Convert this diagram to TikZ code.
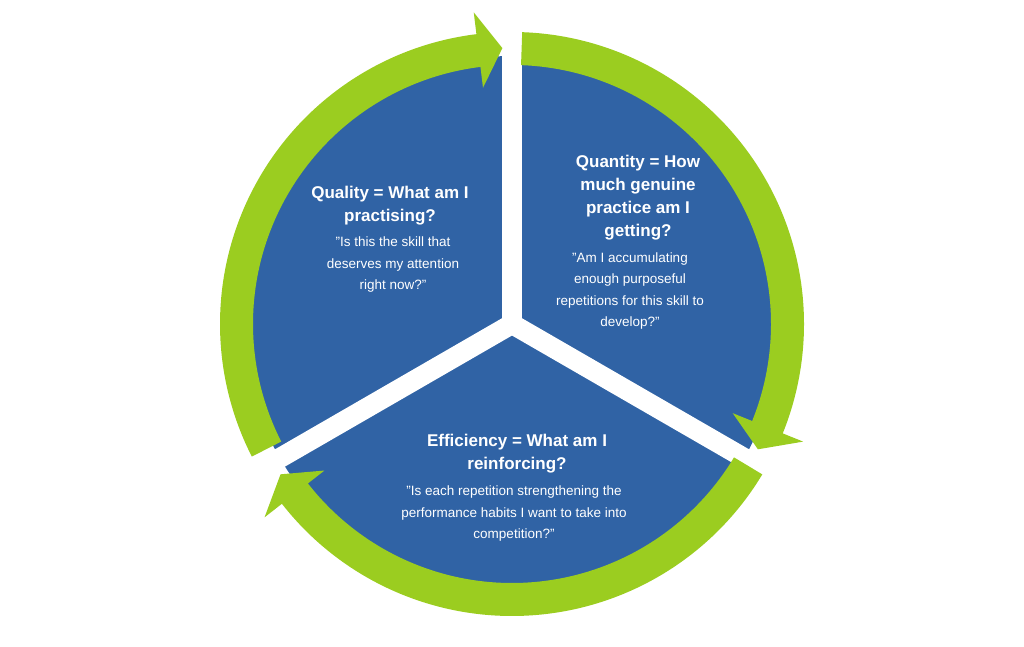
\documentclass[tikz,border=0pt]{standalone}
\usepackage{fontspec}
\setmainfont{Liberation Sans}[Ligatures=NoCommon]
\usetikzlibrary{calc}
\definecolor{bl}{HTML}{3063A5}
\definecolor{gr}{HTML}{9BCD20}
\newcommand\qq{\symbol{34}}
\begin{document}
\begin{tikzpicture}[x=1pt,y=1pt,
  hd/.style={text=white,font=\bfseries\fontsize{17}{23}\selectfont,align=center},
  bd/.style={text=white,font=\fontsize{13.5}{21.5}\selectfont,align=center}]
\useasboundingbox (0,0) rectangle (1024,647);
\coordinate (c) at (512,323);
\fill[bl] (c) circle (268);
\foreach \a in {90,210,330} \draw[white,line width=20] (c) -- ++(\a:300);
\newcommand\garrow[2]{% start, end (clockwise)
 \fill[gr] ($(c)+(#1:292)$) arc[start angle=#1,end angle=#2,radius=292]
   -- ($(c)+(#2:314)$) -- ($(c)+({#2-5}:276)$) -- ($(c)+(#2:238)$) -- ($(c)+(#2:259)$)
   arc[start angle=#2,end angle=#1,radius=259] -- cycle;}
\garrow{207}{97}
\garrow{88}{-22}
\garrow{-31}{-142}
\node[hd] (q1) at (390,441) {Quality = What am I\\practising?};
\node[bd] (q1b) at (393,382) {\qq Is this the skill that\\deserves my attention\\right now?\qq};
\node[hd] (q2) at (638,449) {Quantity = How\\much genuine\\practice am I\\getting?};
\node[bd] (q2b) at (630,356) {\qq Am I accumulating\\enough purposeful\\repetitions for this skill to\\develop?\qq};
\node[hd] (q3) at (517,193) {Efficiency = What am I\\reinforcing?};
\node[bd] (q3b) at (514,133) {\qq Is each repetition strengthening the\\performance habits I want to take into\\competition?\qq};
\end{tikzpicture}
\end{document}
